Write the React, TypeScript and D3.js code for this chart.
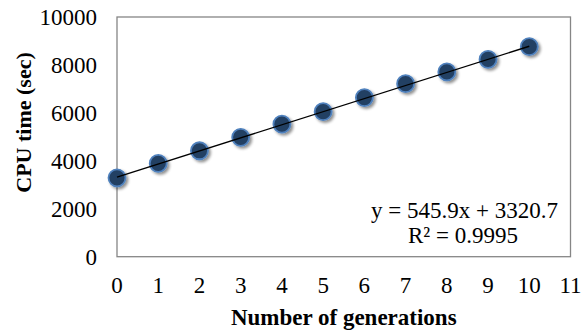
import React from 'react'
import * as d3 from 'd3'

const WIDTH = 583
const HEIGHT = 331
const FONT = '"Times New Roman", "Liberation Serif", serif'

// generations and measured CPU time (sec)
const generations = [0, 1, 2, 3, 4, 5, 6, 7, 8, 9, 10]
const cpuTime = [3290, 3890, 4420, 4980, 5530, 6050, 6640, 7220, 7710, 8230, 8760]
const xTicks = [0, 1, 2, 3, 4, 5, 6, 7, 8, 9, 10, 11]
const yTicks = [0, 2000, 4000, 6000, 8000, 10000]
const slope = 545.9
const intercept = 3320.7
const equationText = 'y = 545.9x + 3320.7'
const r2Text = 'R² = 0.9995'

const plot = { left: 117, right: 570.5, top: 17, bottom: 256.7 }
const FS = 23

export default function App() {
  const x = d3.scaleLinear().domain([0, 11]).range([plot.left, plot.right])
  const y = d3.scaleLinear().domain([0, 10000]).range([plot.bottom, plot.top])

  const fitLine = d3.line<number>()
    .x((g) => x(g))
    .y((g) => y(slope * g + intercept))

  const points = generations.map((g, i) => ({ g, v: cpuTime[i] }))

  return (
    <svg width={WIDTH} height={HEIGHT} style={{ position: 'absolute', left: 0, top: 0, background: '#fff' }}>
      <defs>
        <filter id="shadow" x="-50%" y="-50%" width="200%" height="200%">
          <feGaussianBlur in="SourceAlpha" stdDeviation="1.6" />
          <feOffset dx="1.5" dy="2" result="blur" />
          <feComponentTransfer><feFuncA type="linear" slope="0.45" /></feComponentTransfer>
          <feMerge>
            <feMergeNode />
            <feMergeNode in="SourceGraphic" />
          </feMerge>
        </filter>
      </defs>

      {/* plot frame */}
      <rect x={plot.left} y={plot.top} width={plot.right - plot.left} height={plot.bottom - plot.top}
        fill="none" stroke="#868686" strokeWidth={1.3} />

      {/* y ticks */}
      {yTicks.map((t) => (
        <text key={'y' + t} x={97} y={y(t)} dy="0.35em" textAnchor="end"
          fontFamily={FONT} fontSize={FS} fill="#000">{t}</text>
      ))}

      {/* x ticks */}
      {xTicks.map((t) => (
        <text key={'x' + t} x={x(t)} y={293} textAnchor="middle"
          fontFamily={FONT} fontSize={FS} fill="#000">{t}</text>
      ))}

      {/* markers */}
      <g filter="url(#shadow)">
        {points.map((p) => (
          <circle key={p.g} cx={x(p.g)} cy={y(p.v)} r={8.5}
            fill="#243F63" stroke="#4F81BD" strokeWidth={1.8} />
        ))}
      </g>

      {/* linear trendline */}
      <path d={fitLine([0, 10]) || ''} fill="none" stroke="#000" strokeWidth={1.4} />

      <text x={558} y={218} textAnchor="end" fontFamily={FONT} fontSize={FS}>{equationText}</text>
      <text x={518} y={243} textAnchor="end" fontFamily={FONT} fontSize={FS}>{r2Text}</text>

      <text x={(plot.left + plot.right) / 2} y={325} textAnchor="middle"
        fontFamily={FONT} fontSize={FS} fontWeight="bold">Number of generations</text>
      <text transform={`translate(31,122.5) rotate(-90)`} textAnchor="middle"
        fontFamily={FONT} fontSize={22} fontWeight="bold">CPU time (sec)</text>
    </svg>
  )
}
